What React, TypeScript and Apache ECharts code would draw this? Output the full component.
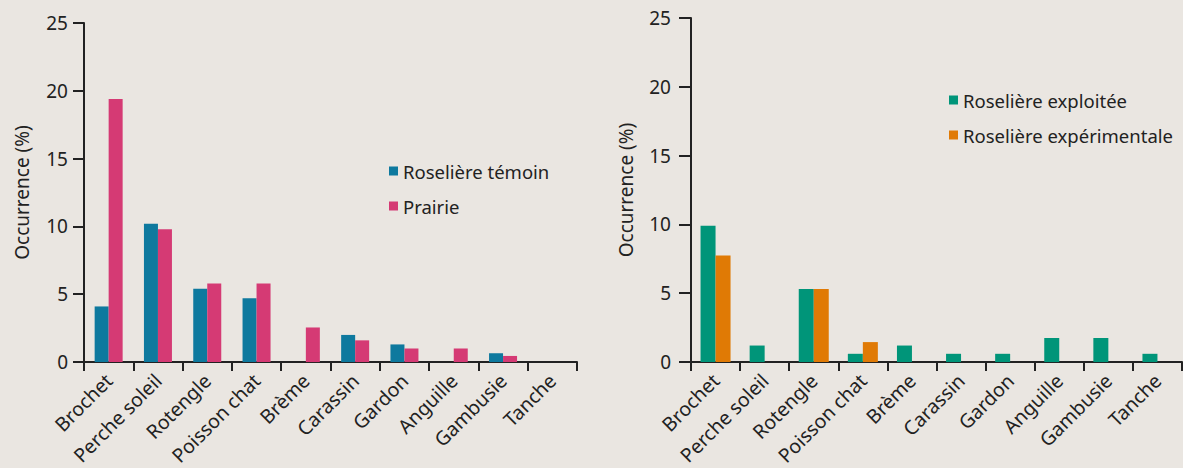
import React, { useEffect, useRef } from "react";
import * as echarts from "echarts";

const categories = [
  "Brochet",
  "Perche soleil",
  "Rotengle",
  "Poisson chat",
  "Brème",
  "Carassin",
  "Gardon",
  "Anguille",
  "Gambusie",
  "Tanche",
];

const roseliereTemoin = [4.1, 10.2, 5.4, 4.7, 0, 2.0, 1.3, 0, 0.65, 0];
const prairie = [19.4, 9.8, 5.8, 5.8, 2.55, 1.6, 1.0, 1.0, 0.45, 0];

const roseliereExploitee = [9.9, 1.2, 5.3, 0.6, 1.2, 0.6, 0.6, 1.75, 1.75, 0.6];
const roseliereExperimentale = [7.75, 0, 5.3, 1.45, 0, 0, 0, 0, 0, 0];

const yTicks = [0, 5, 10, 15, 20, 25];

const FONT = "'Noto Sans', sans-serif";
const INK = "#222222";

export default function App() {
  const ref = useRef<HTMLDivElement>(null);

  useEffect(() => {
    if (!ref.current) return;
    const chart = echarts.init(ref.current, undefined, { renderer: "svg" });

    const yAxisBase = (gridIndex: number, nameGap: number, tickLen: number, labelMargin: number) => ({
      type: "value" as const,
      gridIndex,
      min: yTicks[0],
      max: yTicks[yTicks.length - 1],
      interval: 5,
      name: "Occurrence (%)",
      nameLocation: "middle" as const,
      nameGap,
      nameRotate: 90,
      nameTextStyle: { color: INK, fontSize: 19, fontFamily: FONT },
      axisLine: { show: true, lineStyle: { color: INK, width: 2 } },
      axisTick: { show: true, length: tickLen, lineStyle: { color: INK, width: 2 } },
      axisLabel: { color: INK, fontSize: 19, fontFamily: FONT, margin: labelMargin },
      splitLine: { show: false },
    });

    const xAxisBase = (gridIndex: number) => ({
      type: "category" as const,
      gridIndex,
      data: categories,
      axisLine: { show: true, lineStyle: { color: INK, width: 2 } },
      axisTick: { show: true, length: 9, lineStyle: { color: INK, width: 2 } },
      axisLabel: {
        color: INK,
        fontSize: 19.5,
        fontFamily: FONT,
        rotate: 45,
        interval: 0,
        margin: 15,
      },
    });

    const legendText = { color: INK, fontSize: 18.5, fontFamily: FONT, lineHeight: 22 };

    chart.setOption({
      animation: false,
      backgroundColor: "#EAE6E1",
      textStyle: { fontFamily: FONT },
      grid: [
        { left: 84, top: 23, width: 493, height: 343 },
        { left: 691, top: 18, width: 491, height: 348 },
      ],
      xAxis: [xAxisBase(0), xAxisBase(1)],
      yAxis: [yAxisBase(0, 53, 11, 16), yAxisBase(1, 56, 12, 20)],
      legend: [
        {
          orient: "vertical",
          left: 389,
          top: 160,
          padding: 0,
          icon: "rect",
          itemWidth: 9,
          itemHeight: 9,
          itemGap: 13,
          textStyle: legendText,
          data: ["Roselière témoin", "Prairie"],
        },
        {
          orient: "vertical",
          left: 949,
          top: 89,
          padding: 0,
          icon: "rect",
          itemWidth: 9,
          itemHeight: 9,
          itemGap: 13,
          textStyle: legendText,
          data: ["Roselière exploitée", "Roselière expérimentale"],
        },
      ],
      series: [
        {
          name: "Roselière témoin",
          type: "bar",
          xAxisIndex: 0,
          yAxisIndex: 0,
          data: roseliereTemoin,
          barWidth: 14,
          barGap: "0%",
          itemStyle: { color: "#0E799E" },
        },
        {
          name: "Prairie",
          type: "bar",
          xAxisIndex: 0,
          yAxisIndex: 0,
          data: prairie,
          barWidth: 14,
          barGap: "0%",
          itemStyle: { color: "#D53A74" },
        },
        {
          name: "Roselière exploitée",
          type: "bar",
          xAxisIndex: 1,
          yAxisIndex: 1,
          data: roseliereExploitee,
          barWidth: 15,
          barGap: "0%",
          itemStyle: { color: "#009579" },
        },
        {
          name: "Roselière expérimentale",
          type: "bar",
          xAxisIndex: 1,
          yAxisIndex: 1,
          data: roseliereExperimentale,
          barWidth: 15,
          barGap: "0%",
          itemStyle: { color: "#E07A05" },
        },
      ],
    });

    return () => chart.dispose();
  }, []);

  return (
    <div
      ref={ref}
      style={{ position: "absolute", left: 0, top: 0, width: 1183, height: 468 }}
    />
  );
}
